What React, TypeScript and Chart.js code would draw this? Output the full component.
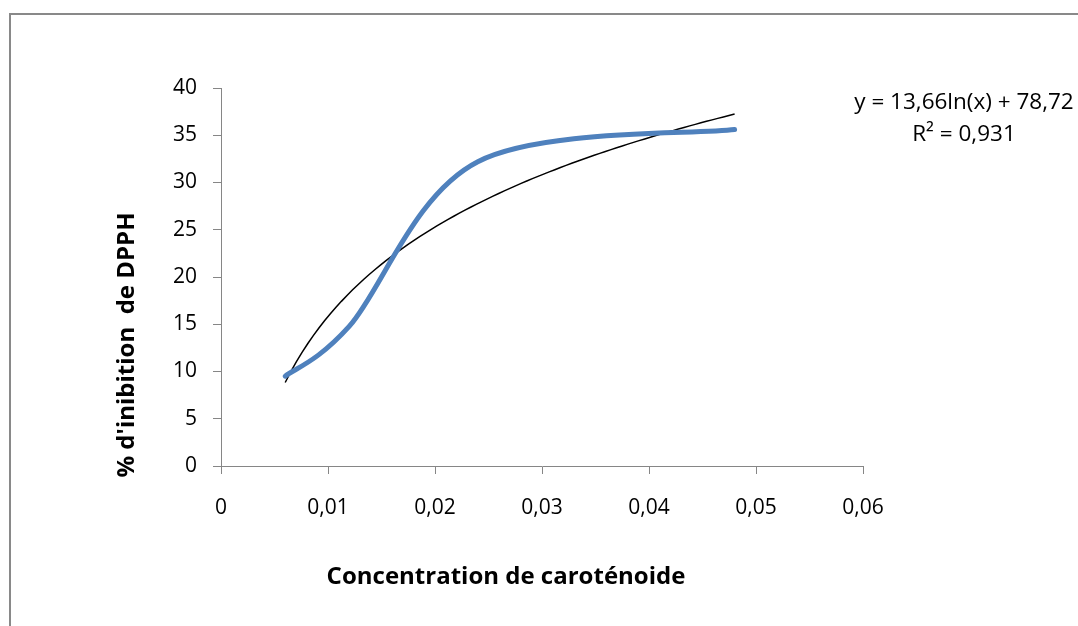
import React, { useEffect, useRef } from 'react';
import { Chart, registerables } from 'chart.js';

Chart.register(...registerables);

// ---- data ----
const concentration = [0.006, 0.012, 0.024, 0.048];
const inhibition = [9.5, 14.8, 32.2, 35.6];

const xTickValues = [0, 0.01, 0.02, 0.03, 0.04, 0.05, 0.06];
const xTickLabels = ['0', '0,01', '0,02', '0,03', '0,04', '0,05', '0,06'];
const yTickValues = [0, 5, 10, 15, 20, 25, 30, 35, 40];
const yTickLabels = ['0', '5', '10', '15', '20', '25', '30', '35', '40'];

// logarithmic trendline reported on the chart
const trendSlope = 13.66;
const trendIntercept = 78.72;
const trendEquationLabel = 'y = 13,66ln(x) + 78,72';
const trendR2Label = 'R² = 0,931';

const xTitle = 'Concentration de caroténoide';
const yTitle = "% d'inibition  de DPPH";

const FONT = '"Open Sans", "Noto Sans", sans-serif';
const AXIS_GRAY = '#868686';

function buildTrend() {
  const xMin = Math.min(...concentration);
  const xMax = Math.max(...concentration);
  const n = 80;
  const pts: { x: number; y: number }[] = [];
  for (let i = 0; i <= n; i++) {
    const x = xMin + ((xMax - xMin) * i) / n;
    pts.push({ x, y: trendSlope * Math.log(x) + trendIntercept });
  }
  return pts;
}

// Spreadsheet-style smoothing (uniform Catmull-Rom Bezier handles)
const smoothPlugin = {
  id: 'sheetSmooth',
  beforeDatasetDraw(chart: any, args: any) {
    if (args.index !== 0) return;
    const line = args.meta.dataset;
    const pts = args.meta.data;
    if (line && typeof line.updateControlPoints === 'function') {
      line.updateControlPoints(chart.chartArea, 'x');
    }
    const n = pts.length;
    for (let i = 0; i < n; i++) {
      const prev = pts[Math.max(0, i - 1)];
      const next = pts[Math.min(n - 1, i + 1)];
      const dx = (next.x - prev.x) / 6;
      const dy = (next.y - prev.y) / 6;
      pts[i].cp1x = pts[i].x - dx;
      pts[i].cp1y = pts[i].y - dy;
      pts[i].cp2x = pts[i].x + dx;
      pts[i].cp2y = pts[i].y + dy;
    }
    if (line) {
      line._pointsUpdated = true;
      line._path = undefined;
    }
  },
};

const decorPlugin = {
  id: 'decor',
  beforeDraw(chart: any) {
    const ctx = chart.ctx;
    ctx.save();
    ctx.strokeStyle = '#898989';
    ctx.lineWidth = 2;
    ctx.strokeRect(10, 14, 1200, 1000);
    ctx.restore();
  },
  afterDraw(chart: any) {
    const ctx = chart.ctx;
    const ca = chart.chartArea;
    ctx.save();
    ctx.fillStyle = '#000';
    ctx.textAlign = 'center';
    ctx.textBaseline = 'middle';
    ctx.font = `bold 24px ${FONT}`;
    ctx.fillText(xTitle, ca.left + 285, 577);
    ctx.save();
    ctx.translate(127, 345);
    ctx.rotate(-Math.PI / 2);
    ctx.fillText(yTitle, 0, 0);
    ctx.restore();
    ctx.font = `22.5px ${FONT}`;
    ctx.fillText(trendEquationLabel, 964, 103);
    ctx.fillText(trendR2Label, 964, 135);
    ctx.restore();
  },
};

export default function App() {
  const ref = useRef<HTMLCanvasElement | null>(null);
  useEffect(() => {
    if (!ref.current) return;
    const chart = new Chart(ref.current, {
      type: 'scatter',
      data: {
        datasets: [
          {
            label: 'inhibition',
            data: concentration.map((x, i) => ({ x, y: inhibition[i] })),
            showLine: true,
            borderColor: '#4F81BD',
            backgroundColor: '#4F81BD',
            borderWidth: 5,
            borderCapStyle: 'round',
            borderJoinStyle: 'round',
            pointRadius: 0,
            tension: 0.3,
          },
          {
            label: 'trend',
            data: buildTrend(),
            showLine: true,
            borderColor: '#000000',
            borderWidth: 1.5,
            pointRadius: 0,
            tension: 0,
          },
        ],
      },
      options: {
        animation: false,
        responsive: false,
        layout: { padding: { top: 88, right: 215, left: 0, bottom: 0 } },
        plugins: { legend: { display: false }, tooltip: { enabled: false } },
        scales: {
          x: {
            type: 'linear',
            min: 0,
            max: 0.06,
            afterBuildTicks: (s: any) => {
              s.ticks = xTickValues.map((v) => ({ value: v }));
            },
            afterFit: (s: any) => {
              s.height = 160;
            },
            ticks: {
              callback: (_v: any, i: number) => xTickLabels[i],
              color: '#000',
              font: { family: FONT, size: 21 },
              padding: 21,
              maxRotation: 0,
              autoSkip: false,
            },
            grid: { drawOnChartArea: false, drawTicks: true, tickLength: 8, color: AXIS_GRAY },
            border: { color: AXIS_GRAY, width: 1 },
          },
          y: {
            type: 'linear',
            min: 0,
            max: 40,
            afterBuildTicks: (s: any) => {
              s.ticks = yTickValues.map((v) => ({ value: v }));
            },
            afterFit: (s: any) => {
              s.width = 221;
            },
            ticks: {
              callback: (_v: any, i: number) => yTickLabels[i],
              color: '#000',
              font: { family: FONT, size: 21 },
              padding: 16,
              autoSkip: false,
            },
            grid: { drawOnChartArea: false, drawTicks: true, tickLength: 8, color: AXIS_GRAY },
            border: { color: AXIS_GRAY, width: 1 },
          },
        },
      },
      plugins: [smoothPlugin, decorPlugin],
    } as any);
    return () => chart.destroy();
  }, []);
  return (
    <div style={{ position: 'absolute', left: 0, top: 0, width: 1078, height: 626, overflow: 'hidden', background: '#fff' }}>
      <canvas ref={ref} width={1078} height={626} style={{ display: 'block' }} />
    </div>
  );
}
